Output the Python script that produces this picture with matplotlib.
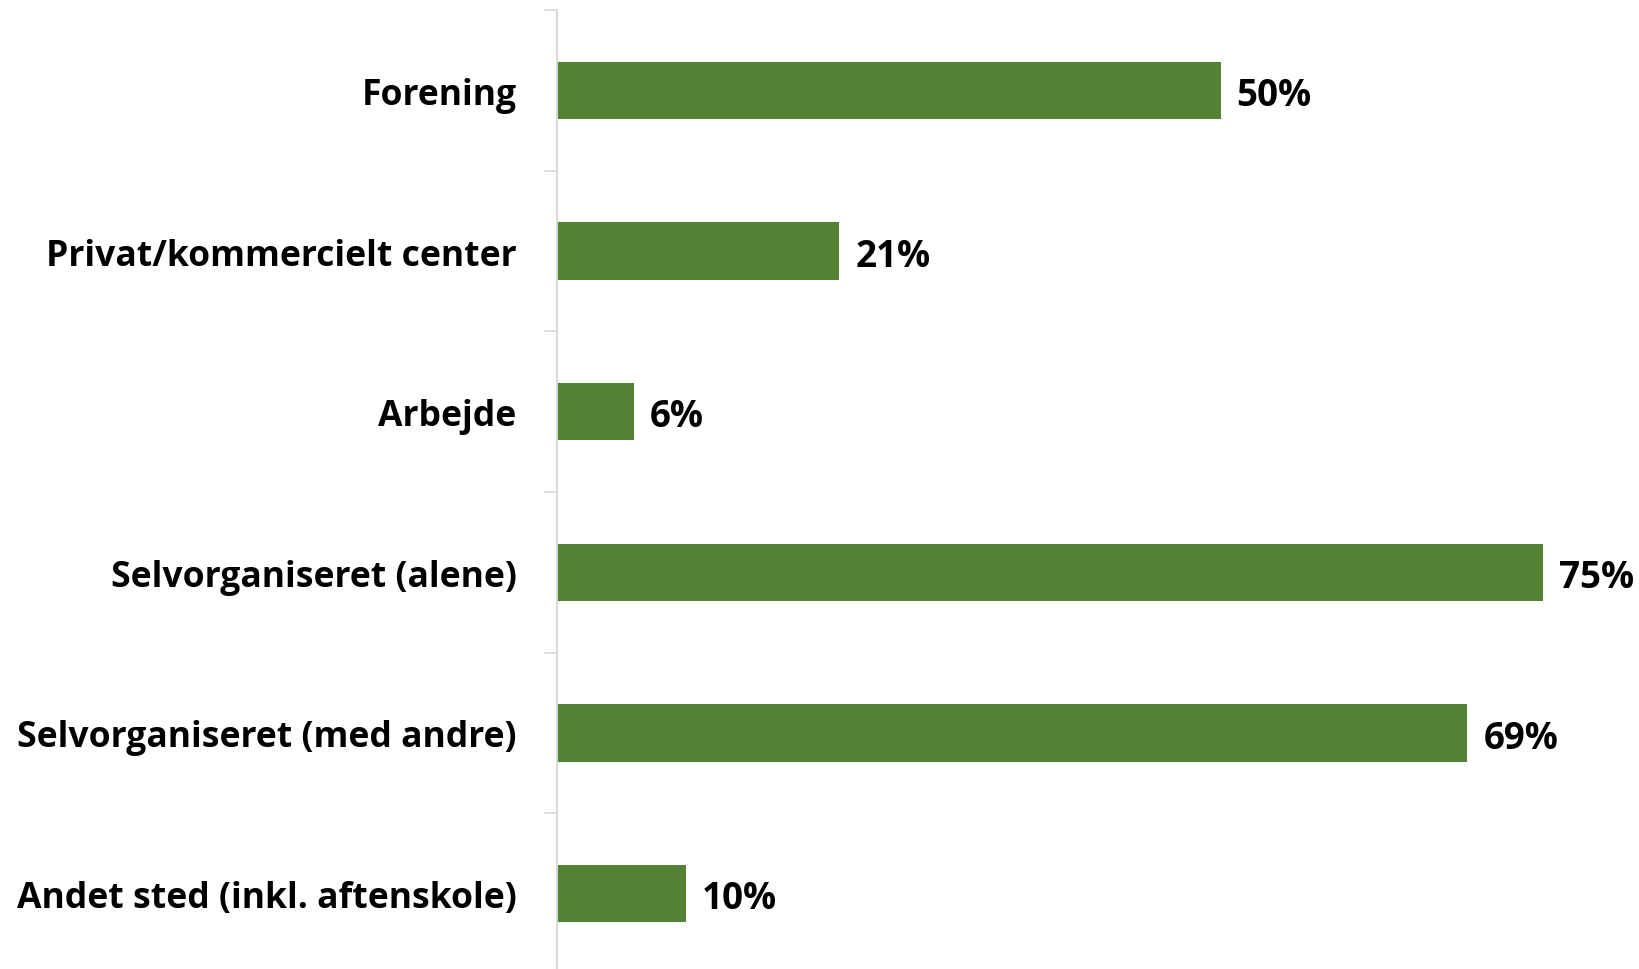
import matplotlib
matplotlib.use("Agg")
import matplotlib.pyplot as plt
import numpy as np

categories = ["Forening", "Privat/kommercielt center", "Arbejde",
              "Selvorganiseret (alene)", "Selvorganiseret (med andre)",
              "Andet sted (inkl. aftenskole)"]
values = [50.3, 21.4, 5.8, 74.7, 69.0, 9.8]
labels = ["50%", "21%", "6%", "75%", "69%", "10%"]

plt.rcParams['font.family'] = ['Open Sans', 'DejaVu Sans']

fig = plt.figure(figsize=(16.39, 9.70), dpi=100)
ax = fig.add_axes([557/1639, -5/970, 1082/1639, 964/970])

y = np.arange(len(categories))
ax.barh(y, values, height=0.355, color="#548235", zorder=2)
ax.set_ylim(len(categories) - 0.5, -0.5)
ax.set_xlim(0, 82)

for yi, v, lab in zip(y, values, labels):
    ax.text(v + 1.2, yi + 0.03, lab, va="center", ha="left",
            fontsize=26.5, fontweight="bold", color="black")

ax.set_yticks(y)
ax.set_yticklabels(categories, fontsize=25.6, fontweight="bold")
ax.tick_params(axis="y", which="major", length=0, pad=29)
ax.set_yticks(np.arange(-0.5, len(categories), 1.0), minor=True)
ax.tick_params(axis="y", which="minor", length=9.5, width=1.2, color="#d9d9d9")
ax.set_xticks([])

for s in ["top", "right", "bottom"]:
    ax.spines[s].set_visible(False)
ax.spines["left"].set_color("#d9d9d9")
ax.spines["left"].set_linewidth(1.5)

fig.savefig("out.png", dpi=100)
